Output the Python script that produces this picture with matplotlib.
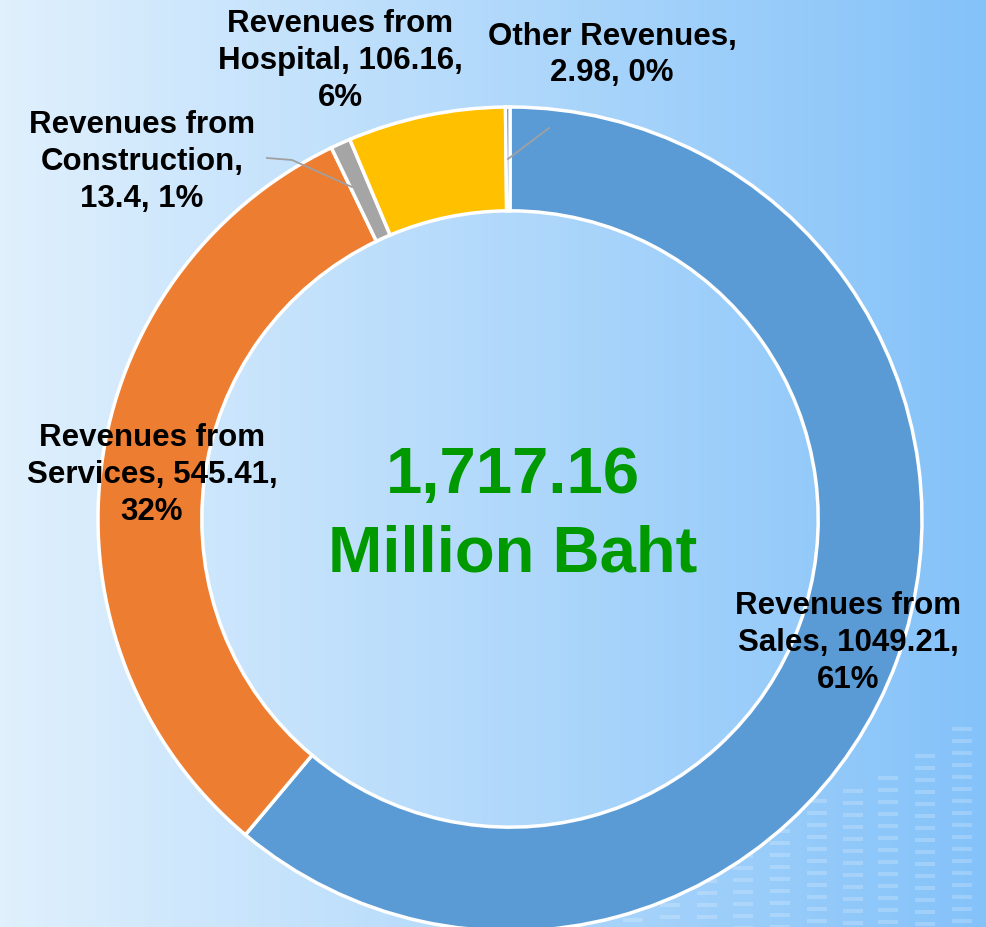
import matplotlib
matplotlib.use("Agg")
import matplotlib.pyplot as plt
import numpy as np
from matplotlib.patches import Rectangle

plt.rcParams['font.family'] = ['Liberation Sans', 'DejaVu Sans']

categories = ["Revenues from Sales", "Revenues from Services", "Revenues from Construction",
              "Revenues from Hospital", "Other Revenues"]
values = [1049.21, 545.41, 13.4, 106.16, 2.98]
percents = ["61%", "32%", "1%", "6%", "0%"]
colors = ["#5b9bd5", "#ed7d31", "#a5a5a5", "#ffc000", "#4472c4"]
total_lines = ["1,717.16", "Million Baht"]

W, H = 987, 928
fig = plt.figure(figsize=(W/100, H/100), dpi=100)
ax = fig.add_axes([0, 0, 1, 1])

# background gradient
grad = np.linspace(0, 1, 256)
c0 = np.array([224, 240, 253]) / 255
c1 = np.array([132, 194, 249]) / 255
img = c0[None, :] * (1 - grad[:, None]) + c1[None, :] * grad[:, None]
img = img[None, :, :]
ax.imshow(img, extent=[0, W, 0, H], aspect='auto', zorder=0)

# faint decorative equalizer bars (bottom right)
cols = [(633, 895), (670, 880), (707, 868), (743, 855), (780, 830), (817, 800), (853, 790), (888, 777), (925, 755), (962, 728)]
for cx, top in cols:
    y = top
    while y < H:
        ax.add_patch(Rectangle((cx - 10, H - y - 4), 20, 4, color='white', alpha=0.2, lw=0, zorder=0.5))
        y += 12

cx, cy, R = 510, 408, 412
wedges, _ = ax.pie(values, colors=colors, startangle=90, counterclock=False,
                   center=(cx, cy), radius=R, frame=True,
                   wedgeprops=dict(width=0.252 * R, edgecolor='white', linewidth=2.5))
ax.set_xlim(0, W)
ax.set_ylim(0, H)
ax.set_aspect('auto')
ax.axis('off')

def yy(y):
    return H - y

label_pos = [(848, 643), (152, 475), (142, 162), (340, 61), (612, 55)]
names = ["Revenues from\nSales", "Revenues from\nServices", "Revenues from\nConstruction",
         "Revenues from\nHospital", "Other Revenues"]
for i, (x, y) in enumerate(label_pos):
    if i in (2, 4):
        txt = f"{names[i]},\n{values[i]:g}, {percents[i]}"
    else:
        txt = f"{names[i]}, {values[i]:g},\n{percents[i]}"
    ax.text(x, yy(y), txt, ha='center', va='center', fontsize=22.5, fontweight='bold',
            color='black', linespacing=1.3, zorder=5)

# leader lines
ax.plot([267, 292, 352], [yy(159), yy(161), yy(188)], color='#a0a0a0', lw=1.3, zorder=4)
ax.plot([508, 549], [yy(160), yy(129)], color='#a0a0a0', lw=1.3, zorder=4)

ax.text(513, yy(493), total_lines[0], ha='center', va='baseline', fontsize=47, fontweight='bold',
        color='#009900', zorder=5)
ax.text(513, yy(572), total_lines[1], ha='center', va='baseline', fontsize=47, fontweight='bold',
        color='#009900', zorder=5)

fig.savefig("out.png", dpi=100)
